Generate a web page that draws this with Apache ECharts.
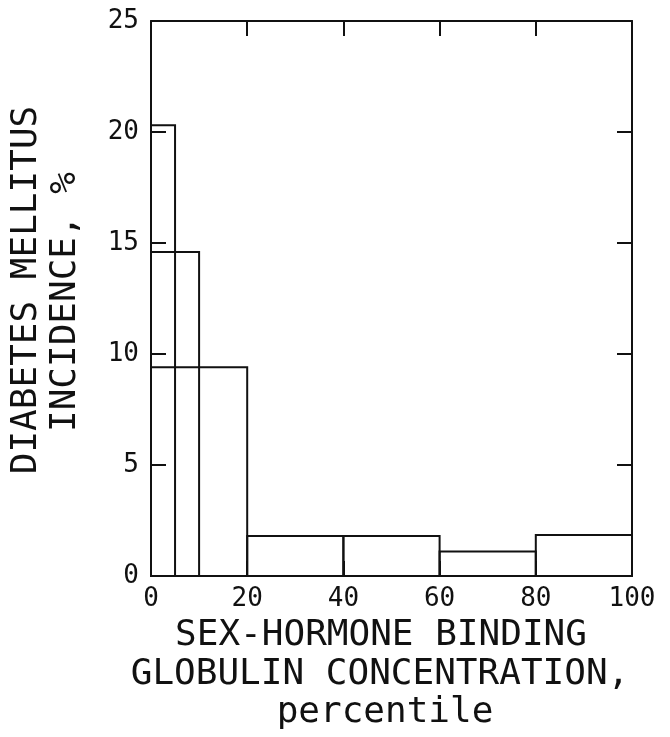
<!DOCTYPE html>
<html>
<head>
<meta charset="utf-8">
<script src="https://cdn.jsdelivr.net/npm/echarts@6/dist/echarts.min.js"></script>
<style>
html,body{margin:0;padding:0;background:#fff;}
#chart{width:670px;height:737px;}
</style>
</head>
<body>
<div id="chart"></div>
<script>
// Data
const binStart = [0, 0, 0, 20, 40, 60, 80];
const binEnd = [5, 10, 20, 40, 60, 80, 100];
const incidence = [20.3, 14.6, 9.4, 1.8, 1.8, 1.1, 1.85];
const xTicks = [0, 20, 40, 60, 80, 100];
const yTicks = [0, 5, 10, 15, 20, 25];
const yTitleLines = ['DIABETES MELLITUS', 'INCIDENCE, %'];
const xTitleLines = ['SEX-HORMONE BINDING', 'GLOBULIN CONCENTRATION,', 'percentile'];

const FONT = '"DejaVu Sans Mono", monospace';
const INK = '#111';

const chart = echarts.init(document.getElementById('chart'), null, {renderer: 'canvas'});
const barData = binStart.map((s, i) => [s, binEnd[i], incidence[i]]);

const axisCommon = {
  type: 'value',
  splitLine: {show: false},
  axisLine: {show: true, onZero: false, lineStyle: {color: INK, width: 2}},
  axisTick: {show: true, inside: true, length: 15, lineStyle: {color: INK, width: 2}}
};

const option = {
  backgroundColor: '#fff',
  animation: false,
  grid: {left: 151, right: 38, top: 21, bottom: 161, containLabel: false},
  xAxis: [
    Object.assign({}, axisCommon, {
      position: 'bottom', min: xTicks[0], max: xTicks[xTicks.length - 1], interval: 20,
      axisLabel: {show: true, margin: 10, color: INK, fontSize: 26, fontFamily: FONT}
    }),
    Object.assign({}, axisCommon, {
      position: 'top', min: xTicks[0], max: xTicks[xTicks.length - 1], interval: 20,
      axisLabel: {show: false}
    })
  ],
  yAxis: [
    Object.assign({}, axisCommon, {
      position: 'left', min: yTicks[0], max: yTicks[yTicks.length - 1], interval: 5,
      axisLabel: {show: true, margin: 12, color: INK, fontSize: 26, fontFamily: FONT}
    }),
    Object.assign({}, axisCommon, {
      position: 'right', min: yTicks[0], max: yTicks[yTicks.length - 1], interval: 5,
      axisLabel: {show: false}
    })
  ],
  series: [{
    type: 'custom',
    xAxisIndex: 0,
    yAxisIndex: 0,
    data: barData,
    encode: {x: [0, 1], y: 2},
    renderItem: function (params, api) {
      const p0 = api.coord([api.value(0), 0]);
      const p1 = api.coord([api.value(1), api.value(2)]);
      return {
        type: 'rect',
        shape: {x: p0[0], y: p1[1], width: p1[0] - p0[0], height: p0[1] - p1[1]},
        style: {fill: 'none', stroke: INK, lineWidth: 2}
      };
    }
  }],
  graphic: [
    {type: 'text', x: 27, y: 290, rotation: Math.PI / 2,
      style: {text: yTitleLines[0], font: '36px ' + FONT, fill: INK, textAlign: 'center', textVerticalAlign: 'middle'}},
    {type: 'text', x: 66, y: 302, rotation: Math.PI / 2,
      style: {text: yTitleLines[1], font: '36px ' + FONT, fill: INK, textAlign: 'center', textVerticalAlign: 'middle'}},
    {type: 'text', x: 381, y: 636,
      style: {text: xTitleLines[0], font: '36px ' + FONT, fill: INK, textAlign: 'center', textVerticalAlign: 'middle'}},
    {type: 'text', x: 380, y: 675,
      style: {text: xTitleLines[1], font: '36px ' + FONT, fill: INK, textAlign: 'center', textVerticalAlign: 'middle'}},
    {type: 'text', x: 385, y: 713,
      style: {text: xTitleLines[2], font: '36px ' + FONT, fill: INK, textAlign: 'center', textVerticalAlign: 'middle'}}
  ]
};
chart.setOption(option);
</script>
</body>
</html>
